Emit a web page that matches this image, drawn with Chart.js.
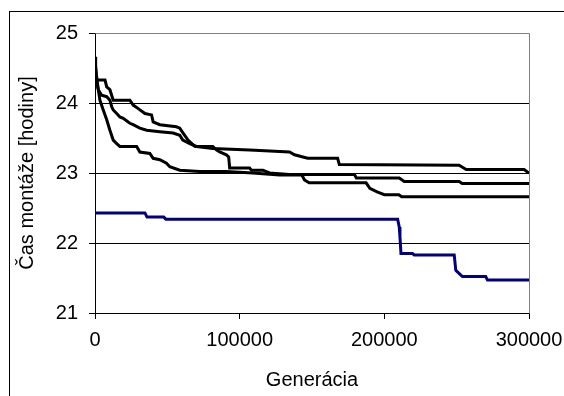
<!DOCTYPE html>
<html>
<head>
<meta charset="utf-8">
<script src="https://cdn.jsdelivr.net/npm/chart.js@4"></script>
<style>
    body { margin: 0; width: 564px; height: 396px; overflow: hidden; background: #ffffff; }
    #chart { position: absolute; left: 0; top: 0; }
    #frame { position: absolute; left: 9px; top: 11px; width: 600px; height: 420px; border: 1px solid #000000; pointer-events: none; }
</style>
</head>
<body>
<canvas id="chart" width="564" height="396"></canvas>
<div id="frame"></div>
<script>
// === DATA (generation, value) ===
const genA = [0, 300, 600, 6900, 8100, 10300, 11500, 12600, 24100, 26400, 29900, 34500, 39100, 40200, 44800, 56300, 58600, 60900, 64300, 69000, 81400, 106900, 134500, 137900, 147000, 167700, 168900, 251700, 256600, 296600, 300000];
const valA = [24.66, 24.45, 24.33, 24.33, 24.23, 24.19, 24.11, 24.04, 24.04, 23.97, 23.92, 23.85, 23.83, 23.73, 23.69, 23.66, 23.64, 23.57, 23.47, 23.38, 23.35, 23.33, 23.30, 23.26, 23.21, 23.21, 23.12, 23.11, 23.05, 23.05, 23.00];

const genB = [0, 1200, 2300, 4600, 8100, 10300, 11500, 12600, 15000, 17200, 19500, 24100, 26400, 31000, 35700, 44800, 54000, 58600, 60700, 65500, 70100, 81400, 83900, 86200, 90800, 92400, 93100, 106900, 108100, 116100, 120700, 134500, 179300, 180700, 210300, 213800, 251700, 253800, 300000];
const valB = [24.60, 24.28, 24.19, 24.11, 24.09, 24.04, 23.95, 23.90, 23.85, 23.80, 23.78, 23.71, 23.69, 23.64, 23.61, 23.59, 23.57, 23.54, 23.47, 23.42, 23.38, 23.38, 23.33, 23.30, 23.26, 23.23, 23.07, 23.07, 23.04, 23.04, 23.00, 22.98, 22.98, 22.93, 22.93, 22.88, 22.88, 22.85, 22.85];

const genC = [0, 1000, 2300, 3400, 5700, 8100, 10300, 12600, 15000, 17200, 28800, 31000, 37900, 40200, 44800, 49400, 51700, 58600, 72400, 90800, 109000, 127600, 143000, 144800, 148000, 187400, 190000, 195000, 200000, 210000, 212000, 300000];
const valC = [24.60, 24.40, 24.19, 24.04, 23.90, 23.76, 23.61, 23.47, 23.42, 23.38, 23.38, 23.30, 23.28, 23.21, 23.19, 23.14, 23.09, 23.04, 23.02, 23.02, 23.00, 22.97, 22.97, 22.90, 22.86, 22.86, 22.78, 22.73, 22.69, 22.69, 22.66, 22.66];

const genBlue = [0, 34500, 36000, 47500, 49000, 209200, 210300, 210800, 211500, 219500, 220700, 248300, 249400, 252900, 254000, 270100, 271300, 300000];
const valBlue = [22.43, 22.43, 22.37, 22.37, 22.34, 22.34, 22.23, 22.09, 21.85, 21.85, 21.83, 21.83, 21.61, 21.54, 21.52, 21.52, 21.47, 21.47];

const xTicks = [0, 100000, 200000, 300000];
const yTicks = [21, 22, 23, 24, 25];

const FONT = { family: "'Liberation Sans', Arial, sans-serif", size: 20 };

function toPoints(gens, vals) {
    return gens.map((g, i) => ({ x: g, y: vals[i] }));
}

function lineSet(label, gens, vals, color) {
    return {
        label: label,
        data: toPoints(gens, vals),
        borderColor: color,
        borderWidth: 3,
        pointRadius: 0,
        tension: 0,
        fill: false
    };
}

// gray border on the top and right side of the plot area
const plotBorder = {
    id: "plotBorder",
    afterDatasetsDraw(chart) {
        const a = chart.chartArea;
        const ctx = chart.ctx;
        ctx.save();
        ctx.strokeStyle = "#808080";
        ctx.lineWidth = 1;
        ctx.beginPath();
        ctx.moveTo(Math.round(a.left) + 0.5, Math.round(a.top) + 0.5);
        ctx.lineTo(Math.round(a.right) + 0.5, Math.round(a.top) + 0.5);
        ctx.lineTo(Math.round(a.right) + 0.5, Math.round(a.bottom) + 0.5);
        ctx.stroke();
        ctx.restore();
    }
};

new Chart(document.getElementById("chart").getContext("2d"), {
    type: "line",
    data: {
        datasets: [
            lineSet("A", genA, valA, "#000000"),
            lineSet("B", genB, valB, "#000000"),
            lineSet("C", genC, valC, "#000000"),
            lineSet("Najlepší", genBlue, valBlue, "#000080")
        ]
    },
    options: {
        responsive: false,
        animation: false,
        layout: { padding: { top: 33, right: 35, left: 0, bottom: 0 } },
        plugins: { legend: { display: false }, tooltip: { enabled: false } },
        scales: {
            x: {
                type: "linear",
                min: 0,
                max: 300000,
                afterBuildTicks: (s) => { s.ticks = xTicks.map(v => ({ value: v })); },
                afterFit: (s) => { s.height = 83; s.paddingLeft = 0; s.paddingRight = 0; },
                ticks: { color: "#000000", font: FONT, padding: 9, maxRotation: 0, callback: (v) => String(v) },
                grid: { drawOnChartArea: false, drawTicks: true, tickLength: 6, color: "#000000" },
                border: { color: "#000000", width: 1 },
                title: { display: true, text: "Generácia", color: "#000000", font: FONT, padding: { top: 0, bottom: 4 } }
            },
            y: {
                min: 21,
                max: 25,
                afterBuildTicks: (s) => { s.ticks = yTicks.map(v => ({ value: v })); },
                afterFit: (s) => { s.width = 95; s.paddingTop = 0; s.paddingBottom = 0; },
                ticks: { color: "#000000", font: FONT, padding: 11 },
                grid: { color: "#000000", tickLength: 6 },
                border: { color: "#000000", width: 1 },
                title: { display: true, text: "Čas montáže [hodiny]", color: "#000000", font: FONT, padding: { top: 15, bottom: 0 } }
            }
        }
    },
    plugins: [plotBorder]
});
</script>
</body>
</html>
